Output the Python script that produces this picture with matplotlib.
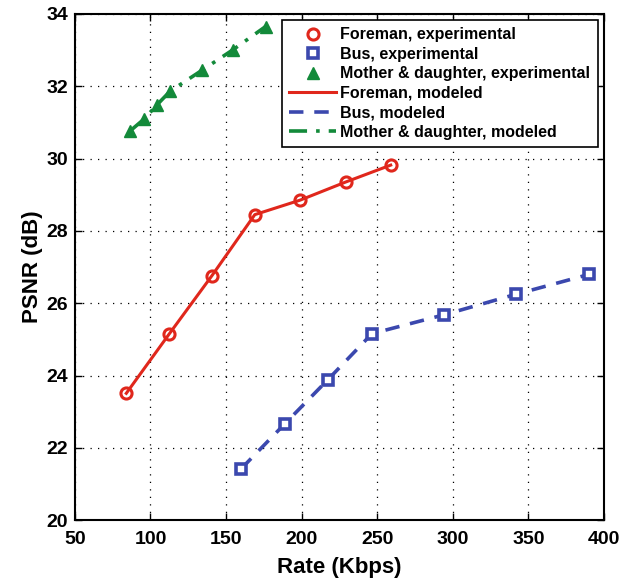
import matplotlib
matplotlib.use("Agg")
import matplotlib.pyplot as plt

plt.rcParams['font.family'] = ['Liberation Sans', 'DejaVu Sans']
plt.rcParams['font.weight'] = 'bold'

# Foreman
foreman_rate = [84.0, 112.2, 140.6, 169.0, 198.9, 229.0, 258.9]
foreman_psnr = [23.51, 25.14, 26.76, 28.45, 28.85, 29.35, 29.82]

# Bus
bus_rate = [159.9, 188.7, 217.2, 246.5, 294.1, 341.9, 390.3]
bus_psnr = [21.42, 22.66, 23.88, 25.16, 25.68, 26.25, 26.80]

# Mother & daughter
md_rate = [86.7, 95.7, 104.4, 112.9, 134.0, 154.6, 176.1]
md_psnr = [30.77, 31.09, 31.49, 31.86, 32.44, 33.01, 33.65]

red = '#e0271c'
blue = '#3b48ae'
green = '#138a3a'

fig = plt.figure(figsize=(6.24, 5.8), dpi=100)
ax = fig.add_axes([0.120, 0.103, 0.848, 0.873])

# experimental points
ax.plot(foreman_rate, foreman_psnr, 'o', ms=8, mfc='none', mec=red, mew=2.2,
        label='Foreman, experimental', zorder=4)
ax.plot(bus_rate, bus_psnr, 's', ms=7, mfc='white', mec=blue, mew=2.6,
        label='Bus, experimental', zorder=4)
ax.plot(md_rate, md_psnr, '^', ms=8, color=green, mec=green,
        label='Mother & daughter, experimental', zorder=4)

# modeled curves
ax.plot(foreman_rate, foreman_psnr, '-', color=red, lw=2.2, label='Foreman, modeled')
ax.plot(bus_rate, bus_psnr, '--', color=blue, lw=2.6, dashes=(4, 3),
        label='Bus, modeled')
ax.plot(md_rate, md_psnr, '-.', color=green, lw=2.6, dashes=(5, 2.5, 1, 2.5),
        label='Mother & daughter, modeled')

ax.set_xlim(50, 400)
ax.set_ylim(20, 34)
ax.set_xticks(range(50, 401, 50))
ax.set_yticks(range(20, 35, 2))
ax.grid(True, linestyle=(0, (1, 5)), color='black', lw=0.9)
ax.tick_params(direction='in', top=True, right=True, labelsize=14, length=5, width=1)
ax.tick_params(axis='x', pad=8)
ax.tick_params(axis='y', pad=5)
for s in ax.spines.values():
    s.set_linewidth(1.5)

ax.set_xlabel('Rate (Kbps)', fontsize=16, fontweight='bold', labelpad=6)
ax.set_ylabel('PSNR (dB)', fontsize=16, fontweight='bold', labelpad=2)

leg = ax.legend(loc='upper right', fontsize=11.5, frameon=True, fancybox=False,
                edgecolor='black', framealpha=1, borderpad=0.45, labelspacing=0.28,
                handlelength=2.9, handletextpad=0.3, borderaxespad=0.4)
leg.get_frame().set_linewidth(1.2)
for t in leg.get_texts():
    t.set_fontweight('bold')

fig.savefig('out.png', dpi=100)
